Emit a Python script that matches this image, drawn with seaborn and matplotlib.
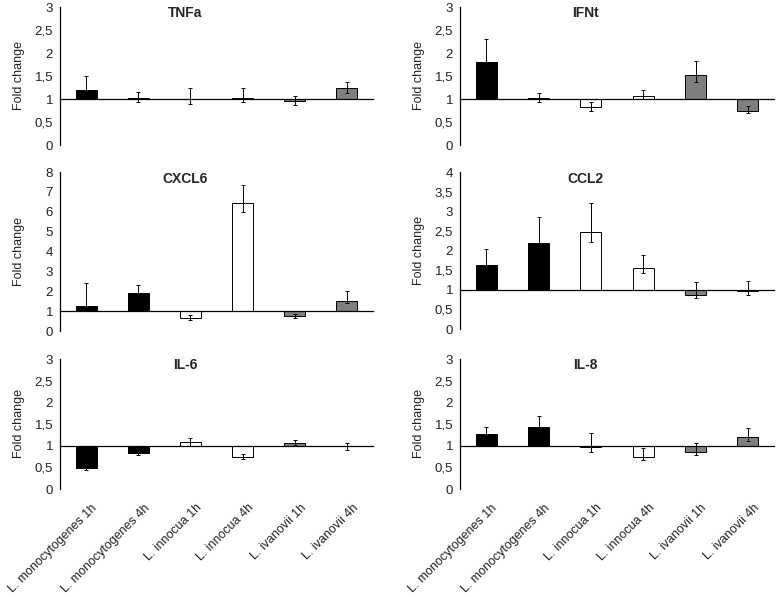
import numpy as np
import pandas as pd
import matplotlib
matplotlib.use("Agg")
import matplotlib.pyplot as plt
import matplotlib.transforms as mtransforms
from matplotlib.ticker import FuncFormatter, MultipleLocator
import seaborn as sns

# samples (x categories)
samples = ["L. monocytogenes 1h", "L. monocytogenes 4h", "L. innocua 1h",
           "L. innocua 4h", "L. ivanovii 1h", "L. ivanovii 4h"]

# fold change per gene, with lower / upper ends of the error bars
tnfa_fold = [1.20, 1.02, 1.00, 1.03, 0.95, 1.23]
tnfa_lo = [1.08, 0.94, 0.90, 0.94, 0.88, 1.14]
tnfa_hi = [1.51, 1.15, 1.23, 1.24, 1.07, 1.38]

ifnt_fold = [1.80, 1.03, 0.83, 1.06, 1.52, 0.75]
ifnt_lo = [1.45, 0.94, 0.75, 0.99, 1.38, 0.69]
ifnt_hi = [2.31, 1.12, 0.93, 1.19, 1.82, 0.84]

cxcl6_fold = [1.25, 1.92, 0.65, 6.46, 0.75, 1.52]
cxcl6_lo = [1.05, 1.60, 0.55, 5.99, 0.65, 1.39]
cxcl6_hi = [2.43, 2.29, 0.83, 7.37, 0.85, 1.99]

ccl2_fold = [1.62, 2.20, 2.46, 1.55, 0.87, 0.97]
ccl2_lo = [1.30, 1.70, 2.22, 1.42, 0.79, 0.87]
ccl2_hi = [2.05, 2.85, 3.20, 1.88, 1.19, 1.22]

il6_fold = [0.49, 0.84, 1.085, 0.74, 1.06, 0.99]
il6_lo = [0.43, 0.78, 1.00, 0.69, 1.01, 0.91]
il6_hi = [0.60, 0.90, 1.18, 0.80, 1.13, 1.07]

il8_fold = [1.28, 1.43, 0.96, 0.75, 0.86, 1.20]
il8_lo = [1.15, 1.25, 0.85, 0.68, 0.79, 1.11]
il8_hi = [1.42, 1.68, 1.29, 0.95, 1.06, 1.40]

bar_colors = ["black", "black", "white", "white", "#7f7f7f", "#7f7f7f"]

sns.set_style("white")
plt.rcParams["font.family"] = ["Liberation Sans", "DejaVu Sans"]

fig = plt.figure(figsize=(7.76, 5.97), dpi=100)

W, H = 776, 597
def add_ax(x0, x1, y0, y1):
    return fig.add_axes([x0 / W, 1 - y1 / H, (x1 - x0) / W, (y1 - y0) / H])

panels = [
    ("TNFa", tnfa_fold, tnfa_lo, tnfa_hi, 3, 0.5, add_ax(60, 373, 7, 145)),
    ("IFNt", ifnt_fold, ifnt_lo, ifnt_hi, 3, 0.5, add_ax(460, 774, 7, 145)),
    ("CXCL6", cxcl6_fold, cxcl6_lo, cxcl6_hi, 8, 1, add_ax(60, 373, 172, 331)),
    ("CCL2", ccl2_fold, ccl2_lo, ccl2_hi, 4, 0.5, add_ax(460, 774, 172, 329)),
    ("IL-6", il6_fold, il6_lo, il6_hi, 3, 0.5, add_ax(60, 373, 359, 489)),
    ("IL-8", il8_fold, il8_lo, il8_hi, 3, 0.5, add_ax(460, 774, 359, 489)),
]

comma = FuncFormatter(lambda v, p: f"{v:g}".replace(".", ","))

for k, (gene, fold, lo, hi, ymax, step, ax) in enumerate(panels):
    fold = np.array(fold)
    df = pd.DataFrame({"sample": samples, "change": fold - 1})
    # bars start at the baseline 1
    sns.barplot(data=df, x="sample", y="change", hue="sample", palette=bar_colors,
                width=0.4, edgecolor="black", linewidth=0.7, bottom=1,
                legend=False, ax=ax)
    ax.errorbar(np.arange(len(samples)), fold,
                yerr=[fold - np.array(lo), np.array(hi) - fold],
                fmt="none", ecolor="black", elinewidth=0.7, capsize=1.5,
                capthick=0.7, zorder=5)

    ax.set_xlim(-0.5, 5.5)
    ax.set_ylim(0, ymax)
    ax.yaxis.set_major_locator(MultipleLocator(step))
    ax.yaxis.set_major_formatter(comma)
    ax.set_xticks(np.arange(0.5, 6, 1))
    ax.tick_params(axis="x", labelbottom=False, length=3.5, width=0.8,
                   direction="out", color="black")
    ax.tick_params(axis="y", length=3, width=0.8, direction="out",
                   color="black", labelsize=9.5, pad=2, labelcolor="#222222")
    ax.spines["bottom"].set_position(("data", 1))
    for s in ["top", "right"]:
        ax.spines[s].set_visible(False)
    for s in ["left", "bottom"]:
        ax.spines[s].set_color("black")
        ax.spines[s].set_linewidth(0.9)
    ax.set_xlabel("")
    ax.set_ylabel("Fold change", fontsize=9, color="#222222")
    ax.yaxis.set_label_coords(-0.113 if k % 2 == 0 else -0.11, 0.5)
    ax.text(0.4, 0.955, gene, transform=ax.transAxes, ha="center", va="center",
            fontsize=10, fontweight="bold")

    if k >= 4:
        trans = mtransforms.blended_transform_factory(ax.transData, ax.transAxes)
        for i, name in enumerate(samples):
            ax.text(i + 0.1, -0.1, name, transform=trans, rotation=45,
                    rotation_mode="anchor", ha="right", va="top",
                    fontsize=9, color="#222222")

fig.savefig("out.png", dpi=100)
